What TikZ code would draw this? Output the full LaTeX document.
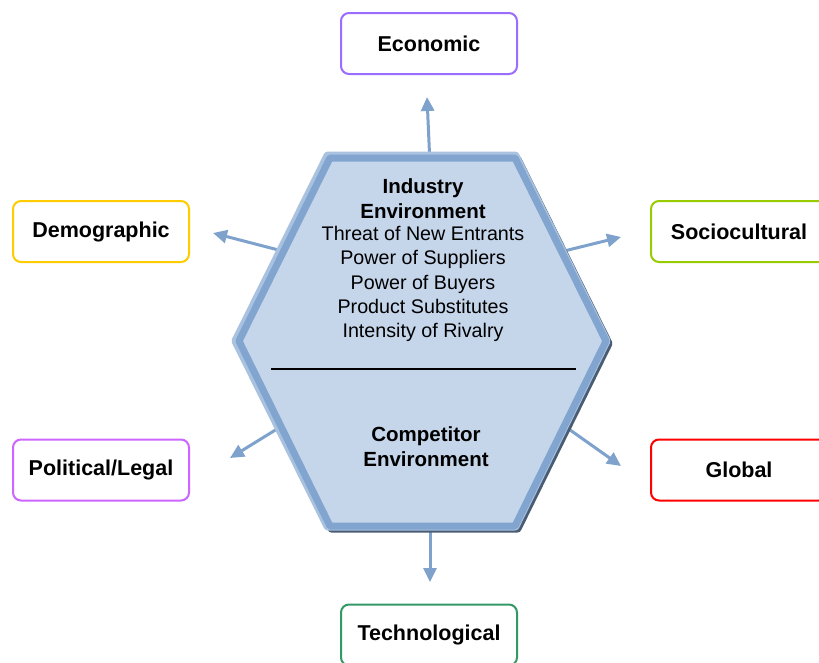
\documentclass[tikz,border=0pt]{standalone}
\usepackage{fontspec}
\setmainfont{Liberation Sans}
\usetikzlibrary{arrows.meta}
\definecolor{arrowblue}{HTML}{7FA2CC}
\definecolor{hexfill}{HTML}{C5D5EA}
\definecolor{hexborder}{HTML}{82A5D0}
\definecolor{hexlight}{HTML}{A9C2E0}
\definecolor{hexshadow}{HTML}{4A5C74}
\definecolor{econcol}{HTML}{9A6CFF}
\definecolor{democol}{HTML}{FFCC00}
\definecolor{sociocol}{HTML}{99CC00}
\definecolor{polcol}{HTML}{CC66FF}
\definecolor{globcol}{HTML}{FF0000}
\definecolor{techcol}{HTML}{339966}
\begin{document}
\begin{tikzpicture}[x=1pt,y=-1pt,
  factor/.style={draw, line width=2pt, rounded corners=8pt, fill=white,
    minimum width=176pt, minimum height=61pt, inner sep=0pt,
    font=\bfseries\fontsize{21.5}{25}\selectfont},
  conn/.style={draw=arrowblue, line width=3pt,
    -{Triangle[length=14pt,width=13pt]}},
  hextext/.style={align=center, inner sep=0pt, font=\fontsize{19.7}{24.2}\selectfont},
  hexbold/.style={align=center, inner sep=0pt, font=\bfseries\fontsize{20.5}{25}\selectfont}
]
\clip (0,0) rectangle (819,662);
\fill[white] (0,0) rectangle (819,662);

% boxes
\node[factor, draw=econcol] (econ) at (429,43.5) {Economic};
\node[factor, draw=democol] (demo) at (101,231.5) {Demographic};
\node[factor, draw=sociocol] (socio) at (739,231.5) {Sociocultural};
\node[factor, draw=polcol] (pol) at (101,470) {Political/Legal};
\node[factor, draw=globcol] (glob) at (739,470) {Global};
\node[factor, draw=techcol] (tech) at (429,635) {Technological};

% connector end points
\coordinate (sTop) at (430,165);
\coordinate (eTop) at (427,97);
\coordinate (sUL) at (290,253);
\coordinate (eUL) at (213,233);
\coordinate (sUR) at (556,253);
\coordinate (eUR) at (621,237);
\coordinate (sLL) at (290,421);
\coordinate (eLL) at (230,458);
\coordinate (sLR) at (556,420);
\coordinate (eLR) at (621,466);
\coordinate (sBot) at (430,520);
\coordinate (eBot) at (430,582);

\draw[conn] (sTop) -- (eTop);
\draw[conn] (sUL) -- (eUL);
\draw[conn] (sUR) -- (eUR);
\draw[conn] (sLL) -- (eLL);
\draw[conn] (sLR) -- (eLR);
\draw[conn] (sBot) -- (eBot);

% hexagon shadow
\draw[line width=8pt, line join=round, draw=hexshadow]
  (331.5,159.5) -- (517.5,159.5) -- (608.5,343.5)
  -- (517.5,528.5) -- (331.5,528.5) -- (240.5,343.5) -- cycle;
% light outer rim
\draw[line width=9pt, line join=round, draw=hexlight]
  (328,156) -- (515,156) -- (606,341) -- (515,526) -- (328,526) -- (236,341) -- cycle;
% hexagon
\draw[line width=7pt, line join=round, draw=hexborder, fill=hexfill]
  (330,158) -- (515,158) -- (606,341) -- (515,526) -- (330,526) -- (239,341) -- cycle;

\draw[line width=1.2pt] (271,369) -- (576,369);

\node[hexbold] (indtitle) at (423,198.5) {Industry\\Environment};
\node[hextext] (indlist) at (423,284) {Threat of New Entrants\\Power of Suppliers\\Power of Buyers\\Product Substitutes\\Intensity of Rivalry};
\node[hexbold] (comp) at (426,447) {Competitor\\Environment};
\end{tikzpicture}
\end{document}
